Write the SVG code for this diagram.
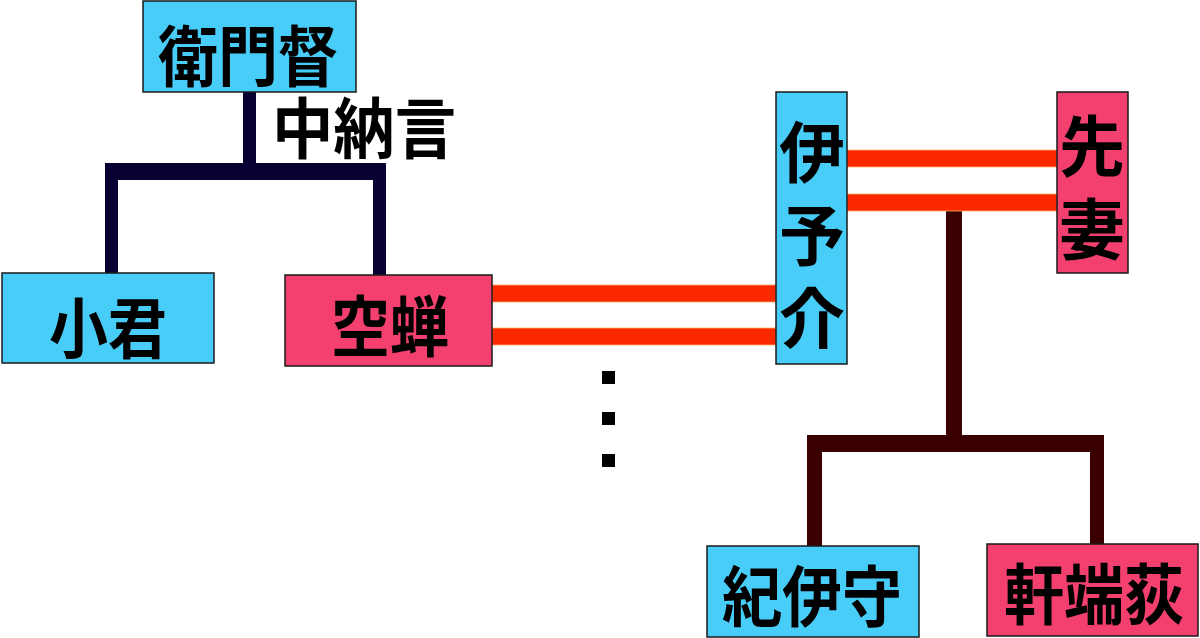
<svg xmlns="http://www.w3.org/2000/svg" width="1200" height="638" viewBox="0 0 1200 638">
<style>
.cyan{fill:#48cdf8;stroke:#1a1a1a;stroke-width:1.5}
.pink{fill:#f3406f;stroke:#1a1a1a;stroke-width:1.5}
.lbl{font-family:"Noto Sans CJK JP","Noto Sans CJK SC",sans-serif;font-weight:bold;font-size:66px;fill:#000;text-anchor:middle;dominant-baseline:central}
.vert{writing-mode:vertical-rl;letter-spacing:17px}
.navy{fill:#0b0032}
.brown{fill:#3a0000}
.red{fill:#fb2800;stroke:#ffb060;stroke-width:0.8}
.dot{fill:#000}
</style>
<rect width="1200" height="638" fill="#fff"/>
<g id="connectors">
<rect class="navy" x="243" y="92" width="13" height="80"/>
<rect class="navy" x="105" y="163" width="281" height="17"/>
<rect class="navy" x="105" y="163" width="13" height="110"/>
<rect class="navy" x="373" y="163" width="13" height="112"/>
<rect class="brown" x="946" y="211" width="16" height="232"/>
<rect class="brown" x="807" y="435" width="297" height="17"/>
<rect class="brown" x="807" y="435" width="15" height="111"/>
<rect class="brown" x="1090" y="435" width="14" height="109"/>
<rect class="red" x="492" y="285" width="284" height="17"/>
<rect class="red" x="492" y="328" width="284" height="17"/>
<rect class="red" x="847" y="150" width="210" height="17"/>
<rect class="red" x="847" y="194" width="210" height="17"/>
</g>
<g id="ellipsis">
<rect class="dot" x="602" y="371" width="13" height="13"/>
<rect class="dot" x="602" y="412" width="13" height="13"/>
<rect class="dot" x="602" y="454" width="13" height="13"/>
</g>
<g id="emon">
<rect class="cyan" x="143" y="1" width="213" height="91"/>
<text class="lbl" x="248" y="52" textLength="180" lengthAdjust="spacingAndGlyphs">衛門督</text>
</g>
<g id="chunagon">
<text class="lbl" x="364" y="124" font-size="60" textLength="184" lengthAdjust="spacingAndGlyphs">中納言</text>
</g>
<g id="kogimi">
<rect class="cyan" x="2" y="273" width="212" height="90"/>
<text class="lbl" x="108" y="324" textLength="118" lengthAdjust="spacingAndGlyphs">小君</text>
</g>
<g id="utsusemi">
<rect class="pink" x="285" y="275" width="207" height="91"/>
<text class="lbl" x="390" y="322" textLength="118" lengthAdjust="spacingAndGlyphs">空蝉</text>
</g>
<g id="iyonosuke">
<rect class="cyan" x="776" y="92" width="71" height="272"/>
<text class="lbl vert" x="812" y="243">伊予介</text>
</g>
<g id="sensai">
<rect class="pink" x="1057" y="92" width="71" height="181"/>
<text class="lbl vert" x="1092" y="196">先妻</text>
</g>
<g id="kiinokami">
<rect class="cyan" x="707" y="546" width="212" height="91"/>
<text class="lbl" x="812" y="592" textLength="180" lengthAdjust="spacingAndGlyphs">紀伊守</text>
</g>
<g id="nokibanoogi">
<rect class="pink" x="987" y="544" width="211" height="92"/>
<text class="lbl" x="1094" y="590" textLength="180" lengthAdjust="spacingAndGlyphs">軒端荻</text>
</g>
</svg>
